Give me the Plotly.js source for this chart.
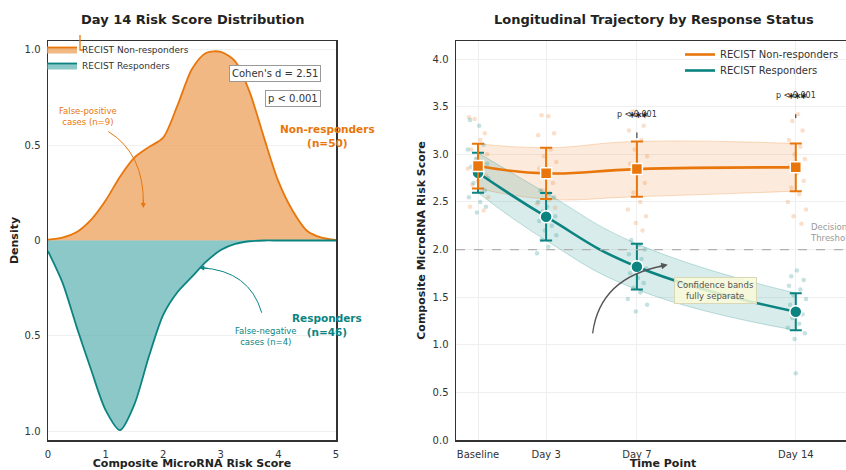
<!DOCTYPE html>
<html><head><meta charset="utf-8">
<script src="https://cdn.plot.ly/plotly-3.0.1.min.js"></script>
<style>html,body{margin:0;padding:0;overflow:hidden;background:#fff}#chart{width:870px;height:470px}</style>
</head><body><div id="chart"></div>
<script>
// ---- Left panel: Day 14 density ----
const scoreGrid = [0,0.25,0.5,0.75,1.0,1.25,1.5,1.75,2.0,2.25,2.5,2.75,3.0,3.25,3.5,3.75,4.0,4.25,4.5,4.75,5.0];
const nonRespDensity = [0.005,0.015,0.045,0.11,0.21,0.335,0.435,0.49,0.54,0.71,0.90,0.985,0.99,0.94,0.78,0.54,0.31,0.155,0.05,0.015,0.003];
const respDensity = [0.056,0.22,0.456,0.68,0.89,0.995,0.86,0.61,0.39,0.27,0.19,0.11,0.05,0.018,0.004,0,0,0,0,0,0];
const densityTickVals = [-1,-0.5,0,0.5,1];
const densityTickText = ['1.0','0.5','0','0.5','1.0'];

// ---- Right panel: trajectories ----
const timeDays = [0,3,7,14];
const timeLabels = ['Baseline','Day 3','Day 7','Day 14'];
const nonRespMean = [2.877,2.80,2.845,2.863];
const nonRespErr = [0.235,0.27,0.29,0.25];
const respMean = [2.806,2.345,1.82,1.347];
const respErr = [0.21,0.25,0.24,0.195];

const nonJitterX = [-0.40,-0.15,0.30,0.10,-0.30,0.40,-0.05,0.20,-0.45,0.35,0.00,-0.25,0.15,0.45,-0.35,0.25,
  2.80,3.10,3.35,2.65,3.20,2.90,3.45,2.70,3.05,3.30,2.85,3.15,2.60,3.40,2.95,
  6.80,7.05,7.30,6.65,7.20,6.90,7.45,6.70,7.10,7.35,6.85,7.15,6.60,7.40,6.95,7.25,
  14.10,13.85,14.30,13.70,14.20,13.95,14.40,13.75,14.05,14.35,13.80,14.15,13.65,14.45,13.90,14.25];
const nonJitterY = [3.39,3.37,3.22,3.15,3.05,3.00,2.95,2.90,2.85,2.78,2.72,2.68,2.60,2.55,2.45,2.41,
  3.41,3.40,3.22,3.20,3.05,2.98,2.92,2.85,2.78,2.70,2.62,2.52,2.48,2.44,2.32,
  3.45,3.40,3.30,3.25,3.15,3.05,2.98,2.90,2.80,2.70,2.60,2.50,2.42,2.35,2.28,2.20,
  3.42,3.35,3.25,3.15,3.08,3.00,2.95,2.88,2.80,2.72,2.65,2.58,2.50,2.42,2.35,2.27];
const respJitterX = [-0.35,0.05,-0.45,0.25,-0.10,0.40,-0.30,0.15,0.45,-0.20,0.30,-0.40,0.10,0.35,-0.05,
  2.75,3.15,3.35,2.65,3.05,2.85,3.40,2.70,3.25,2.95,3.45,2.80,3.10,2.60,
  6.75,7.10,7.35,6.65,7.20,6.90,7.40,6.70,7.05,7.30,6.85,7.15,6.60,7.45,6.95,
  14.05,13.80,14.35,13.70,14.20,13.90,14.45,13.75,14.10,14.30,13.85,14.15,13.65,14.40,13.95,14.00];
const respJitterY = [3.36,3.30,3.05,3.10,2.95,2.90,2.87,2.80,2.75,2.70,2.62,2.55,2.50,2.45,2.39,
  2.62,2.59,2.55,2.50,2.45,2.40,2.35,2.30,2.25,2.20,2.15,2.10,2.03,1.96,
  2.10,2.05,2.00,1.95,1.90,1.85,1.80,1.75,1.70,1.65,1.60,1.55,1.48,1.42,1.35,
  1.78,1.72,1.68,1.62,1.58,1.52,1.48,1.42,1.38,1.32,1.28,1.22,1.18,1.12,1.06,0.70];
const decisionThreshold = 2.0;

const ORANGE = '#e8760b', TEAL = '#0b8481';
const W = 870, H = 470;
const FONT = 'DejaVu Sans, sans-serif';

const upper = (m, e) => m.map((v, i) => v + e[i]);
const lower = (m, e) => m.map((v, i) => v - e[i]);

const traces = [
  {x: scoreGrid, y: nonRespDensity, type:'scatter', mode:'lines', fill:'tozeroy',
   line:{color:ORANGE, width:1.8, shape:'spline', smoothing:0.8}, fillcolor:'rgba(236,160,90,0.75)',
   name:'RECIST Non-responders', xaxis:'x', yaxis:'y', legend:'legend'},
  {x: scoreGrid, y: respDensity.map(v => -v), type:'scatter', mode:'lines', fill:'tozeroy',
   line:{color:TEAL, width:1.8, shape:'spline', smoothing:0.8}, fillcolor:'rgba(80,170,170,0.65)',
   name:'RECIST Responders', xaxis:'x', yaxis:'y', legend:'legend3'},

  // bands
  {x: timeDays, y: lower(nonRespMean, nonRespErr), type:'scatter', mode:'lines', line:{color:'rgba(232,118,11,0.25)', width:1, shape:'spline', smoothing:1.3},
   xaxis:'x2', yaxis:'y2', showlegend:false, hoverinfo:'skip'},
  {x: timeDays, y: upper(nonRespMean, nonRespErr), type:'scatter', mode:'lines', fill:'tonexty', fillcolor:'rgba(240,150,80,0.2)',
   line:{color:'rgba(232,118,11,0.25)', width:1, shape:'spline', smoothing:1.3}, xaxis:'x2', yaxis:'y2', showlegend:false, hoverinfo:'skip'},
  {x: timeDays, y: lower(respMean, respErr), type:'scatter', mode:'lines', line:{color:'rgba(11,132,129,0.25)', width:1, shape:'spline', smoothing:1.3},
   xaxis:'x2', yaxis:'y2', showlegend:false, hoverinfo:'skip'},
  {x: timeDays, y: upper(respMean, respErr), type:'scatter', mode:'lines', fill:'tonexty', fillcolor:'rgba(60,160,155,0.2)',
   line:{color:'rgba(11,132,129,0.25)', width:1, shape:'spline', smoothing:1.3}, xaxis:'x2', yaxis:'y2', showlegend:false, hoverinfo:'skip'},

  // jitter
  {x: nonJitterX, y: nonJitterY, type:'scatter', mode:'markers', marker:{color:'rgba(240,150,80,0.3)', size:4.5},
   xaxis:'x2', yaxis:'y2', showlegend:false},
  {x: respJitterX, y: respJitterY, type:'scatter', mode:'markers', marker:{color:'rgba(60,160,155,0.3)', size:4.5},
   xaxis:'x2', yaxis:'y2', showlegend:false},

  // mean lines
  {x: timeDays, y: nonRespMean, type:'scatter', mode:'lines', line:{color:ORANGE, width:2.6, shape:'spline', smoothing:1.3},
   name:'RECIST Non-responders', xaxis:'x2', yaxis:'y2', legend:'legend2'},
  {x: timeDays, y: respMean, type:'scatter', mode:'lines', line:{color:TEAL, width:2.6, shape:'spline', smoothing:1.3},
   name:'RECIST Responders', xaxis:'x2', yaxis:'y2', legend:'legend4'},

  // markers with error bars
  {x: timeDays, y: respMean, type:'scatter', mode:'markers',
   marker:{symbol:'circle', size:12, color:TEAL, line:{color:'#fff', width:1.5}},
   error_y:{type:'data', array:respErr, visible:true, color:TEAL, thickness:2, width:6},
   xaxis:'x2', yaxis:'y2', showlegend:false},
  {x: timeDays, y: nonRespMean, type:'scatter', mode:'markers',
   marker:{symbol:'square', size:11, color:ORANGE, line:{color:'#fff', width:1.5}},
   error_y:{type:'data', array:nonRespErr, visible:true, color:ORANGE, thickness:2, width:6},
   xaxis:'x2', yaxis:'y2', showlegend:false}
];

const yDom = [30/H, 429/H];
const axisTitleFont = {family:FONT, size:11, color:'#222', weight:'bold'};
const tickFont = {family:FONT, size:10, color:'#333'};
const frame = {showline:true, mirror:true, linecolor:'#333', linewidth:1.5, zeroline:false, ticks:'', ticklabelstandoff:4};
const legBase = (px, py, size, bg) => ({x:px/W, y:(H-py)/H, xanchor:'left', yanchor:'top', bgcolor:bg,
  font:{family:FONT, size:size, color:'#333'}, tracegroupgap:0});

const layout = {
  width:W, height:H, margin:{l:0,r:0,t:0,b:0},
  paper_bgcolor:'#fff', plot_bgcolor:'#fff',
  font:{family:FONT, color:'#333'},
  xaxis: Object.assign({domain:[48/W, 336/W], range:[0,5], tickvals:[0,1,2,3,4,5], showgrid:false,
    tickfont:tickFont, title:{text:'Composite MicroRNA Risk Score', font:axisTitleFont, standoff:9}, anchor:'y'}, frame),
  yaxis: Object.assign({domain:yDom, range:[-1.047,1.047], tickvals:densityTickVals, ticktext:densityTickText,
    showgrid:true, gridcolor:'#f0f0f0', gridwidth:1, tickfont:tickFont,
    title:{text:'Density', font:axisTitleFont, standoff:3}, anchor:'x'}, frame),
  xaxis2: Object.assign({domain:[456/W, 1], range:[-0.97, 17.27], tickvals:timeDays, ticktext:timeLabels,
    showgrid:true, gridcolor:'#efefef', tickfont:tickFont,
    title:{text:'Time Point', font:axisTitleFont, standoff:9}, anchor:'y2'}, frame),
  yaxis2: Object.assign({domain:yDom, range:[0,4.19], dtick:0.5, tickformat:'.1f', showgrid:true, gridcolor:'#efefef',
    tickfont:tickFont, title:{text:'Composite MicroRNA Risk Score', font:axisTitleFont, standoff:4}, anchor:'x2'}, frame),
  legend: legBase(42, 35, 9, 'rgba(0,0,0,0)'),
  legend3: legBase(42, 51, 9, 'rgba(0,0,0,0)'),
  legend2: legBase(680, 40, 10, 'rgba(0,0,0,0)'),
  legend4: legBase(680, 56, 10, 'rgba(0,0,0,0)'),
  shapes:[
    {type:'line', xref:'x2 domain', yref:'y2', x0:0, x1:1, y0:decisionThreshold, y1:decisionThreshold, line:{color:'#b0b0b0', width:1.2, dash:'dash'}},
    {type:'line', xref:'x2', yref:'y2', x0:7, x1:7, y0:3.17, y1:3.23, line:{color:'#222', width:1}},
    {type:'line', xref:'x2', yref:'y2', x0:14, x1:14, y0:3.38, y1:3.42, line:{color:'#222', width:1}},
    {type:'path', xref:'x', yref:'y', path:'M 1.047,0.572 Q 1.67,0.455 1.655,0.19', line:{color:ORANGE, width:1}},
    {type:'path', xref:'x', yref:'y', path:'M 3.71,-0.379 Q 3.498,-0.158 2.66,-0.143', line:{color:TEAL, width:1}},
    {type:'path', xref:'x2', yref:'y2', path:'M 5.05,1.12 Q 5.37,1.71 8.2,1.83', line:{color:'#555', width:1.3}},
    {type:'path', xref:'paper', yref:'paper', path:'M '+(80/W)+','+((H-35)/H)+' L '+(80/W)+','+((H-50)/H)+' L '+(84/W)+','+((H-50)/H), line:{color:ORANGE, width:1.3}}
  ],
  annotations:[
    {xref:'paper', yref:'paper', x:192/W, y:(H-20)/H, xanchor:'center', yanchor:'middle', text:'Day 14 Risk Score Distribution', showarrow:false,
     font:{family:FONT, size:13, color:'#222', weight:'bold'}},
    {xref:'paper', yref:'paper', x:654/W, y:(H-20)/H, xanchor:'center', yanchor:'middle', text:'Longitudinal Trajectory by Response Status', showarrow:false,
     font:{family:FONT, size:13, color:'#222', weight:'bold'}},
    {xref:'x', yref:'y', x:4.74, y:0.874, xanchor:'right', text:"Cohen's d = 2.51", showarrow:false,
     bgcolor:'#fff', bordercolor:'#999', borderwidth:1, borderpad:2, font:{family:FONT, size:10, color:'#333'}},
    {xref:'x', yref:'y', x:4.74, y:0.743, xanchor:'right', text:'p < 0.001', showarrow:false,
     bgcolor:'#fff', bordercolor:'#999', borderwidth:1, borderpad:2, font:{family:FONT, size:10, color:'#333'}},
    {xref:'x', yref:'y', x:0.694, y:0.649, text:'False-positive<br>cases (n=9)', showarrow:false,
     font:{family:FONT, size:8.5, color:ORANGE}},
    {xref:'x', yref:'y', x:4.844, y:0.55, text:'Non-responders<br>(n=50)', showarrow:false,
     font:{family:FONT, size:10.5, color:ORANGE, weight:'bold'}},
    {xref:'x', yref:'y', x:4.844, y:-0.445, text:'Responders<br>(n=46)', showarrow:false,
     font:{family:FONT, size:10.5, color:TEAL, weight:'bold'}},
    {xref:'x', yref:'y', x:3.785, y:-0.503, text:'False-negative<br>cases (n=4)', showarrow:false,
     font:{family:FONT, size:8.5, color:TEAL}},
    {xref:'x', yref:'y', x:1.655, y:0.171, ax:0, ay:-10, text:'', showarrow:true, arrowhead:2, arrowsize:1, arrowwidth:1, arrowcolor:ORANGE, standoff:0},
    {xref:'x', yref:'y', x:2.627, y:-0.143, ax:10, ay:0.6, text:'', showarrow:true, arrowhead:2, arrowsize:1, arrowwidth:1, arrowcolor:TEAL, standoff:0},
    {xref:'x2', yref:'y2', x:8.36, y:1.84, ax:-10, ay:2, text:'', showarrow:true, arrowhead:2, arrowsize:1, arrowwidth:1.3, arrowcolor:'#555', standoff:0},
    {xref:'x2', yref:'y2', x:7, y:3.42, text:'p < 0.001', showarrow:false, font:{family:FONT, size:8, color:'#333'}},
    {xref:'x2', yref:'y2', x:7.1, y:3.42, yshift:-3, text:'***', showarrow:false, font:{family:FONT, size:12, color:'#222', weight:'bold'}},
    {xref:'x2', yref:'y2', x:14, y:3.62, text:'p < 0.001', showarrow:false, font:{family:FONT, size:8, color:'#333'}},
    {xref:'x2', yref:'y2', x:14.1, y:3.62, yshift:-3, text:'***', showarrow:false, font:{family:FONT, size:12, color:'#222', weight:'bold'}},
    {xref:'x2', yref:'y2', x:14.54, y:2.18, xanchor:'left', align:'left', text:'Decision<br>Threshold', showarrow:false,
     font:{family:FONT, size:8.5, color:'#999'}},
    {xref:'x2', yref:'y2', x:10.48, y:1.575, text:'Confidence bands<br>fully separate', showarrow:false,
     bgcolor:'rgba(250,250,215,0.85)', bordercolor:'#d8d8b8', borderwidth:1, borderpad:2, font:{family:FONT, size:8.5, color:'#555'}}
  ]
};

Plotly.newPlot('chart', traces, layout, {displayModeBar:false, staticPlot:true});
</script></body></html>
